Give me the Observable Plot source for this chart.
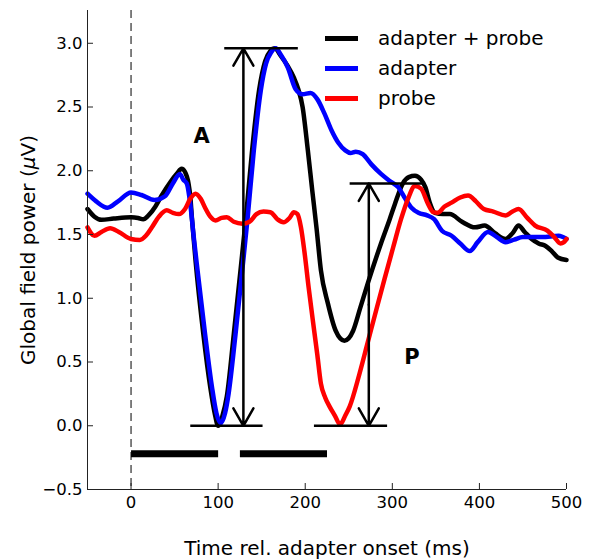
<!DOCTYPE html>
<html><head><meta charset="utf-8">
<script src="https://cdn.jsdelivr.net/npm/d3@7"></script>
<script src="https://cdn.jsdelivr.net/npm/@observablehq/plot@0.6"></script>
<style>
body{margin:0;background:#fff;font-family:"DejaVu Sans",sans-serif;}
#wrap{position:relative;width:591px;height:559px;}
.leg{position:absolute;left:325px;font-size:20px;line-height:24px;height:24px;display:flex;align-items:center;white-space:nowrap;color:#000;}
.leg i{display:inline-block;width:33px;height:5px;margin-right:20px;}
</style></head><body><div id="wrap"></div>
<script>
// ---- data ----
const seriesNames = ["adapter + probe", "adapter", "probe"];
const seriesColors = ["#000000", "#0000ff", "#ff0000"];

const blackT = [-50,-42,-34,-20,0,8,14,20,28,35,45,53,58,62,66,68,70,74,83,91,96,100,105,110,118,126,132,139,147,154,160,165,172,180,187,192,197,203,208,213,218,226,235,245,255,263,272,287,297,303,312,319,326,333,338,343,349,358,366,380,395,406,418,430,438,445,452,460,468,476,483,490,500];
const blackV = [1.70,1.64,1.615,1.625,1.635,1.63,1.62,1.65,1.72,1.805,1.91,1.98,2.015,1.99,1.90,1.80,1.62,1.30,0.72,0.30,0.10,0.00,0.08,0.23,0.72,1.24,1.64,2.16,2.63,2.86,2.94,2.96,2.90,2.82,2.73,2.64,2.50,2.16,1.85,1.55,1.22,0.96,0.745,0.667,0.745,0.92,1.12,1.43,1.62,1.74,1.90,1.95,1.96,1.93,1.87,1.75,1.67,1.66,1.66,1.60,1.556,1.57,1.51,1.465,1.51,1.57,1.52,1.465,1.43,1.41,1.37,1.32,1.30];

const blueT = [-50,-40,-27,-15,0,12,27,39,48,56,60,64,68,72,76,85,93,98,103,108,112,120,128,134,141,149,155,161,166,172,180,189,197,206,214,222,230,238,246,252,258,266,276,287,297,307,315,322,330,340,348,357,368,378,389,398,410,420,430,440,450,472,491,500];
const blueV = [1.82,1.76,1.71,1.76,1.83,1.81,1.77,1.80,1.90,1.975,1.93,1.90,1.74,1.48,1.24,0.72,0.30,0.10,0.02,0.10,0.25,0.72,1.24,1.64,2.16,2.63,2.84,2.93,2.96,2.91,2.81,2.64,2.60,2.61,2.56,2.45,2.32,2.22,2.16,2.14,2.15,2.13,2.05,1.975,1.92,1.87,1.78,1.71,1.67,1.65,1.62,1.53,1.49,1.43,1.37,1.44,1.52,1.48,1.44,1.46,1.48,1.48,1.49,1.465];

const redT = [-50,-42,-34,-24,-14,0,10,17,24,32,41,48,55,62,68,74,80,85,91,97,104,110,118,128,136,144,152,160,168,175,182,187,191,195,199,204,210,214,218,223,228,234,240,246,251,262,272,282,291,301,310,318,326,333,341,347,352,360,368,378,387,396,405,416,430,438,445,455,464,478,486,493,497,500];
const redV = [1.556,1.49,1.52,1.55,1.52,1.465,1.457,1.49,1.557,1.64,1.69,1.67,1.66,1.70,1.78,1.82,1.78,1.71,1.64,1.61,1.63,1.635,1.60,1.585,1.60,1.66,1.68,1.675,1.62,1.596,1.63,1.675,1.66,1.56,1.37,1.08,0.76,0.55,0.33,0.22,0.15,0.08,0.01,0.08,0.15,0.40,0.66,0.92,1.15,1.40,1.62,1.78,1.88,1.86,1.74,1.675,1.67,1.72,1.75,1.79,1.805,1.76,1.70,1.68,1.65,1.68,1.70,1.63,1.57,1.53,1.48,1.43,1.44,1.465];

const xTicks = [0,100,200,300,400,500];
const yTicks = [-0.5,0,0.5,1,1.5,2,2.5,3];
const xDomain = [-50, 500];
const yDomain = [-0.5, 3.257];

// annotation values (data space)
const levelY = [2.96, 0, 1.90, 0];
const levelX1 = [107, 68, 251, 210];
const levelX2 = [191.5, 151, 335, 294];
const arrowX = [129, 273];
const arrowTop = [2.96, 1.90];
const arrowBottom = [0, 0];
const barX1 = [0, 125];
const barX2 = [100, 225];
const barY = -0.22;
const letters = ["A", "P"];
const letterX = [81, 322.5];
const letterY = [2.27, 0.54];
const xLabel = "Time rel. adapter onset (ms)";
const yLabel = "Global field power (μV)";

// ---- build ----
const rows = (T, V) => T.map((t, i) => ({t, v: V[i]}));
const series = [rows(blackT, blackV), rows(blueT, blueV), rows(redT, redV)];
const levels = levelY.map((y, i) => ({y, x1: levelX1[i], x2: levelX2[i]}));
const arrows = [];
arrowX.forEach((x, i) => {
  const mid = (arrowTop[i] + arrowBottom[i]) / 2;
  arrows.push({x, y1: mid, y2: arrowTop[i]});
  arrows.push({x, y1: mid, y2: arrowBottom[i]});
});
const bars = barX1.map((x1, i) => ({x1, x2: barX2[i], y: barY}));
const labs = letters.map((s, i) => ({s, x: letterX[i], y: letterY[i]}));

const chart = Plot.plot({
  width: 591, height: 559,
  marginLeft: 87, marginRight: 25, marginTop: 10, marginBottom: 70,
  style: {fontFamily: "DejaVu Sans", fontSize: "16.5px", color: "#000", background: "#fff", overflow: "visible"},
  x: {domain: xDomain},
  y: {domain: yDomain},
  marks: [
    Plot.ruleX([0], {stroke: "#000", strokeWidth: 1, strokeDasharray: "8,5"}),
    ...series.map((d, i) => Plot.line(d, {x: "t", y: "v", stroke: seriesColors[i], strokeWidth: 4.5, curve: "monotone-x"})),
    Plot.link(levels, {x1: "x1", x2: "x2", y1: "y", y2: "y", stroke: "#000", strokeWidth: 2.5, strokeLinecap: "butt"}),
    Plot.arrow(arrows, {x1: "x", x2: "x", y1: "y1", y2: "y2", stroke: "#000", strokeWidth: 2.5, headLength: 12, headAngle: 60}),
    Plot.link(bars, {x1: "x1", x2: "x2", y1: "y", y2: "y", stroke: "#000", strokeWidth: 7, strokeLinecap: "butt"}),
    Plot.text(labs, {x: "x", y: "y", text: "s", fontSize: 21, fontWeight: "bold", fill: "#000"}),
    Plot.ruleX([xDomain[0]], {stroke: "#222", strokeWidth: 1}),
    Plot.ruleY([yDomain[0]], {stroke: "#222", strokeWidth: 1}),
    Plot.axisX({ticks: xTicks, tickSize: -6, tickPadding: 13, tickFormat: d3.format("d"), label: null, stroke: "#222"}),
    Plot.axisY({ticks: yTicks, tickSize: -6, tickPadding: 11, tickFormat: d3.format(".1f"), label: null, stroke: "#222"}),
    Plot.text([xLabel], {frameAnchor: "bottom", dy: 59, fontSize: 20, fill: "#000", textAnchor: "middle", lineAnchor: "middle"}),
    Plot.text([yLabel], {frameAnchor: "left", dx: -59, rotate: -90, fontSize: 20, fill: "#000", textAnchor: "middle", lineAnchor: "middle"})
  ]
});

const wrap = document.getElementById("wrap");
wrap.appendChild(chart);

// italic mu in y label
chart.querySelectorAll("text").forEach(t => {
  if (t.textContent === yLabel) {
    t.innerHTML = 'Global field power (<tspan font-style="italic">μ</tspan>V)';
  }
});

// legend
const legendY = [38, 68, 98];
seriesNames.forEach((name, i) => {
  const d = document.createElement("div");
  d.className = "leg";
  d.style.top = (legendY[i] - 12) + "px";
  const sw = document.createElement("i");
  sw.style.background = seriesColors[i];
  d.appendChild(sw);
  d.appendChild(document.createTextNode(name));
  wrap.appendChild(d);
});
</script></body></html>
